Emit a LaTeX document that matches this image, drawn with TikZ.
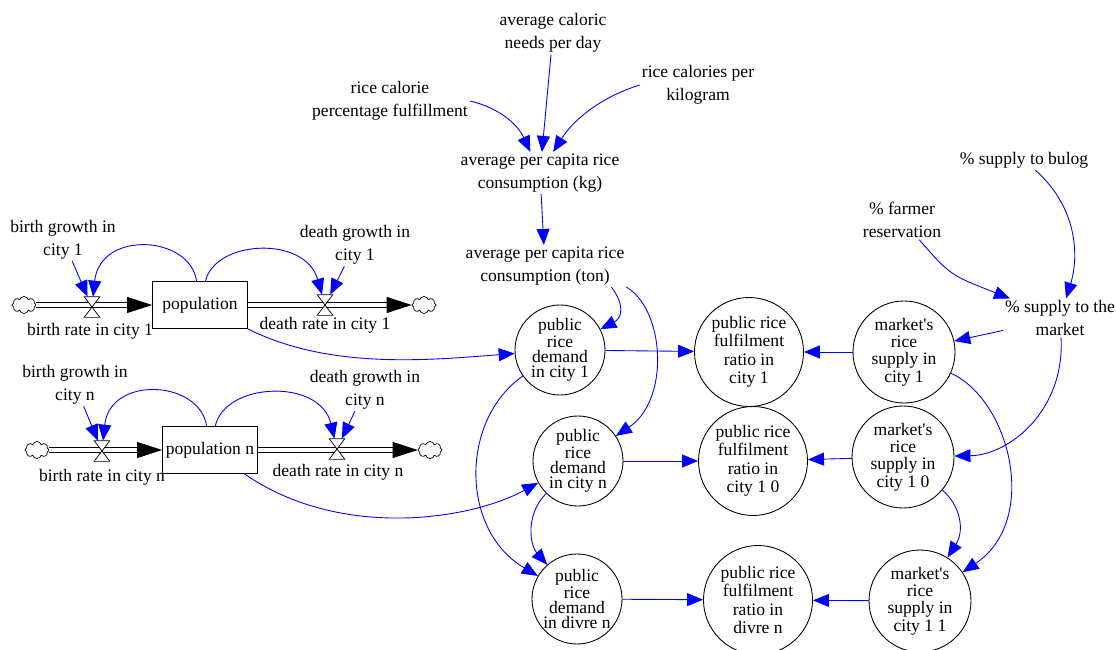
\documentclass[tikz,border=0pt]{standalone}
\usepackage{fontspec}
\setmainfont{Liberation Serif}
\usetikzlibrary{arrows.meta,shapes.symbols}

\tikzset{
  var/.style={align=center,font=\fontsize{10}{12.8}\selectfont,inner sep=1pt},
  stock/.style={draw,line width=0.5pt,minimum width=19mm,minimum height=9.4mm,inner sep=0pt,font=\fontsize{10}{12.8}\selectfont},
  aux/.style={draw,circle,line width=0.5pt,inner sep=0pt,align=center},
  demand/.style={aux,minimum size=18mm,font=\fontsize{10}{8.6}\selectfont},
  ratio/.style={aux,minimum size=21.8mm,font=\fontsize{10}{10.5}\selectfont},
  supply/.style={aux,minimum size=20.4mm,font=\fontsize{10}{9.8}\selectfont},
  link/.style={blue,line width=0.5pt,->},
  pipe/.style={double,double distance=0.8mm,line width=0.4pt,-{Triangle[length=5mm,width=3.2mm]}},
  valve/.style={minimum width=3mm,minimum height=4mm,inner sep=0pt},
  source/.style={cloud,cloud puffs=8,aspect=1.4,draw,line width=0.4pt,inner sep=0pt,minimum width=4.8mm,minimum height=3.4mm}
}
\newcommand{\mkt}{market\textquotesingle s}

\begin{document}
\begin{tikzpicture}[x=0.2mm,y=-0.2mm,>={Triangle[length=3.2mm,width=2.6mm]}]
\useasboundingbox (0,0) rectangle (1116,649);

% stocks and flows
\node[stock] (pop) at (200,305) {population};
\node[stock] (popn) at (210,450) {population n};
\node[source] (cla) at (24,305) {};
\node[source] (clb) at (424,305) {};
\node[source] (clna) at (37,450) {};
\node[source] (clnb) at (430,450) {};
\node[valve] (bv1) at (92,307) {};
\node[valve] (dv1) at (325,305) {};
\node[valve] (bvn) at (102,451) {};
\node[valve] (dvn) at (337,449) {};
\draw[pipe] (cla) -- (pop);
\draw[pipe] (pop) -- (clb);
\draw[pipe] (clna) -- (popn);
\draw[pipe] (popn) -- (clnb);
\foreach \v in {bv1,dv1,bvn,dvn}
  \draw[line width=0.4pt,fill=white] (\v.north west) -- (\v.north east) -- (\v.south west) -- (\v.south east) -- cycle;

\node[var] (br1) at (90,331) {birth rate in city 1};
\node[var] (dr1) at (325,325) {death rate in city 1};
\node[var] (bg1) at (63,240) {birth growth in\\city 1};
\node[var] (dg1) at (355,245) {death growth in\\city 1};
\node[var] (brn) at (102,477) {birth rate in city n};
\node[var] (drn) at (338,472) {death rate in city n};
\node[var] (bgn) at (75,385) {birth growth in\\city n};
\node[var] (dgn) at (365,390) {death growth in\\city n};

% consumption chain
\node[var] (acn) at (553,33) {average caloric\\needs per day};
\node[var] (rcp) at (390,101) {rice calorie\\percentage fulfillment};
\node[var] (rck) at (698,85) {rice calories per\\kilogram};
\node[var] (akg) at (540,173) {average per capita rice\\consumption (kg)};
\node[var] (aton) at (545,266) {average per capita rice\\consumption (ton)};

% supply chain
\node[var] (bulog) at (1024,160) {\% supply to bulog};
\node[var] (farm) at (902,220) {\% farmer\\reservation};
\node[var] (smk) at (1060,318) {\% supply to the\\market};

% demand, ratio and supply
\node[demand] (dem1) at (560,350) {public\\rice\\demand\\in city 1};
\node[demand] (demn) at (578,461) {public\\rice\\demand\\in city n};
\node[demand] (demd) at (577,599) {public\\rice\\demand\\in divre n};
\node[ratio] (ful1) at (749,352) {public rice\\fulfilment\\ratio in\\city 1};
\node[ratio] (fuln) at (753,461) {public rice\\fulfilment\\ratio in\\city 1 0};
\node[ratio] (fuld) at (758,600) {public rice\\fulfilment\\ratio in\\divre n};
\node[supply] (mk1) at (904,352) {\mkt\\rice\\supply in\\city 1};
\node[supply] (mkn) at (903,457) {\mkt\\rice\\supply in\\city 1 0};
\node[supply] (mkd) at (920,601) {\mkt\\rice\\supply in\\city 1 1};

% links
\draw[link] (pop) .. controls (190,235) and (100,230) .. (bv1);
\draw[link] (bg1) -- (bv1);
\draw[link] (pop) .. controls (215,240) and (305,235) .. (dv1);
\draw[link] (dg1) -- (dv1);
\draw[link] (popn) .. controls (200,380) and (110,375) .. (bvn);
\draw[link] (bgn) -- (bvn);
\draw[link] (popn) .. controls (225,382) and (320,378) .. (dvn);
\draw[link] (dgn) -- (dvn);
\draw[link] (pop) .. controls (330,370) and (430,360) .. (dem1);
\draw[link] (popn) .. controls (340,540) and (470,520) .. (demn);
\draw[link] (rcp.east) .. controls (500,108) and (518,125) .. (akg);
\draw[link] (acn) -- (akg);
\draw[link] (rck.west) .. controls (598,98) and (572,122) .. (akg);
\draw[link] (akg) -- (aton);
\draw[link] ([xshift=-3mm]aton.south east) .. controls (625,305) and (622,318) .. (dem1);
\draw[link] (aton.south east) .. controls (665,310) and (670,400) .. (demn);
\draw[link] (dem1) -- (ful1);
\draw[link] (mk1) -- (ful1);
\draw[link] (demn) -- (fuln);
\draw[link] (mkn) -- (fuln);
\draw[link] (demd) -- (fuld);
\draw[link] (mkd) -- (fuld);
\draw[link] (dem1) .. controls (460,420) and (460,530) .. (demd);
\draw[link] (demn) .. controls (525,515) and (530,545) .. (demd);
\draw[link] (farm) .. controls (950,275) .. (smk);
\draw[link] (bulog) .. controls (1080,210) and (1078,260) .. (smk);
\draw[link] (smk) -- (mk1);
\draw[link] (smk) .. controls (1065,410) and (1010,455) .. (mkn);
\draw[link] (mk1) .. controls (1010,400) and (1040,520) .. (mkd);
\draw[link] (mkn) .. controls (960,505) and (965,530) .. (mkd);
\end{tikzpicture}
\end{document}
